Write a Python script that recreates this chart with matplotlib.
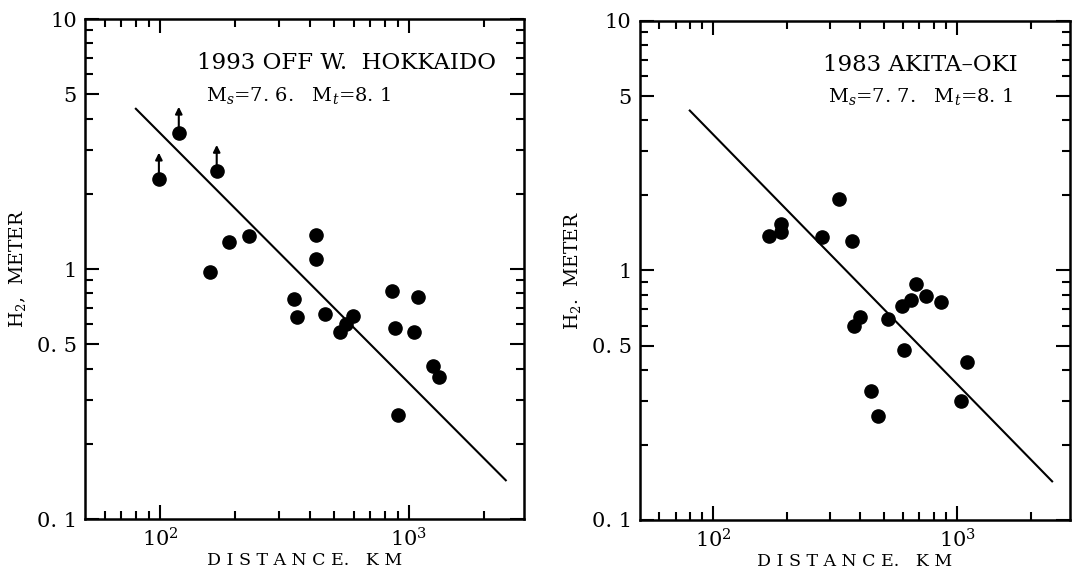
import numpy as np
import matplotlib.pyplot as plt
from matplotlib.ticker import FixedLocator, FixedFormatter, NullFormatter

plt.rcParams['font.family'] = 'DejaVu Serif'
plt.rcParams['mathtext.fontset'] = 'dejavuserif'

# 1993 off W. Hokkaido (km, m); first three are lower bounds (arrows)
hok_dist = [99, 119, 169, 159, 189, 228, 344, 356, 423, 423, 462, 530,
            559, 596, 859, 882, 907, 1092, 1050, 1253, 1321]
hok_h = [2.30, 3.51, 2.47, 0.97, 1.28, 1.35, 0.76, 0.64, 1.37, 1.10, 0.66,
         0.56, 0.60, 0.65, 0.82, 0.58, 0.26, 0.77, 0.56, 0.41, 0.37]
hok_lower = [True, True, True] + [False] * 18

# 1983 Akita-oki
aki_dist = [169, 190, 190, 279, 326, 370, 378, 398, 442, 472, 520, 592,
            604, 644, 680, 745, 859, 1037, 1099]
aki_h = [1.37, 1.54, 1.42, 1.36, 1.94, 1.31, 0.60, 0.65, 0.33, 0.26, 0.64,
         0.72, 0.48, 0.76, 0.88, 0.79, 0.75, 0.30, 0.43]

# reference line H = C / distance
line_c = 350.0
line_x = [80, 2450]

ytick_vals = [0.1, 0.5, 1, 5, 10]
ytick_labels = ['0. 1', '0. 5', '1', '5', '10']
xtick_vals = [100, 1000]
xtick_labels = [r'$10^2$', r'$10^3$']

panels = [
    dict(pos=[0.0786, 0.0942, 0.4057, 0.8726], x=hok_dist, y=hok_h,
         lower=hok_lower, title='1993 OFF W.  HOKKAIDO',
         sub=r'M$_s$=7. 6.   M$_t$=8. 1', tx=0.595, sx=0.487,
         ylab=r'H$_2$,  METER'),
    dict(pos=[0.5915, 0.0925, 0.3974, 0.8709], x=aki_dist, y=aki_h,
         lower=None, title='1983 AKITA–OKI',
         sub=r'M$_s$=7. 7.   M$_t$=8. 1', tx=0.653, sx=0.652,
         ylab=r'H$_2$.  METER'),
]

fig = plt.figure(figsize=(10.82, 5.73), dpi=100)

for p in panels:
    ax = fig.add_axes(p['pos'])
    ax.set_xscale('log')
    ax.set_yscale('log')
    ax.set_xlim(50, 2900)
    ax.set_ylim(0.1, 10)

    lx = np.array(line_x, dtype=float)
    ax.plot(lx, line_c / lx, color='black', lw=1.5)

    if p['lower'] is not None:
        for xi, yi, lo in zip(p['x'], p['y'], p['lower']):
            if lo:
                ax.annotate('', xy=(xi, yi * 1.27), xytext=(xi, yi),
                            arrowprops=dict(arrowstyle='-|>', color='black',
                                            lw=1.5, mutation_scale=10,
                                            shrinkA=0, shrinkB=0))
    ax.plot(p['x'], p['y'], 'o', color='black', ms=9.5, mec='black')

    ax.yaxis.set_major_locator(FixedLocator(ytick_vals))
    ax.yaxis.set_major_formatter(FixedFormatter(ytick_labels))
    ax.yaxis.set_minor_locator(FixedLocator(
        [0.2, 0.3, 0.4, 0.6, 0.7, 0.8, 0.9, 2, 3, 4, 6, 7, 8, 9]))
    ax.yaxis.set_minor_formatter(NullFormatter())
    ax.xaxis.set_major_locator(FixedLocator(xtick_vals))
    ax.xaxis.set_major_formatter(FixedFormatter(xtick_labels))
    ax.xaxis.set_minor_locator(FixedLocator(
        [60, 70, 80, 90, 200, 300, 400, 500, 600, 700, 800, 900, 2000]))
    ax.xaxis.set_minor_formatter(NullFormatter())

    ax.tick_params(which='both', direction='in', top=True, right=True,
                   width=1.5, labelsize=15, colors='black')
    ax.tick_params(which='major', length=10, pad=6)
    ax.tick_params(which='minor', length=6)
    for s in ax.spines.values():
        s.set_linewidth(1.8)

    ax.text(p['tx'], 0.912, p['title'], transform=ax.transAxes,
            ha='center', va='center', fontsize=16.5)
    ax.text(p['sx'], 0.848, p['sub'], transform=ax.transAxes,
            ha='center', va='center', fontsize=14)
    ax.set_xlabel('D I S T A N C E.   K M', fontsize=12.5, labelpad=1)
    ax.set_ylabel(p['ylab'], fontsize=13.5, labelpad=6)

fig.savefig('out.png', dpi=100)
